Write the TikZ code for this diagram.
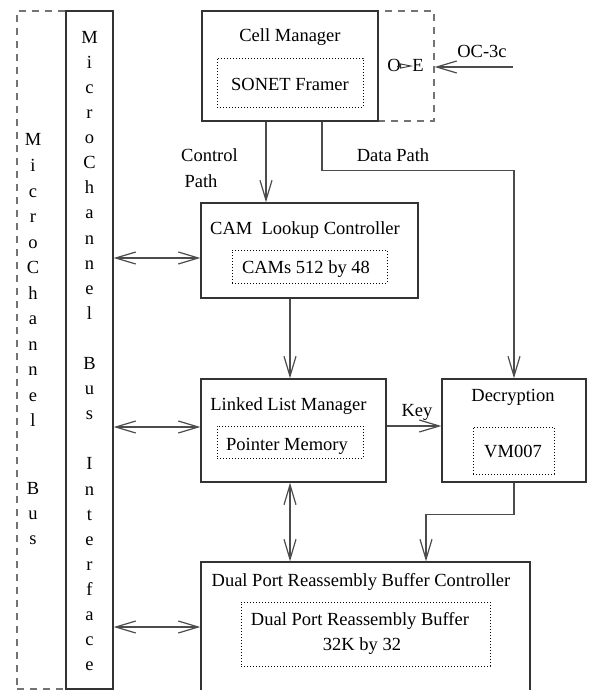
\documentclass[tikz,border=0pt]{standalone}
\usepackage{fontspec}
\setmainfont{Liberation Serif}
\usetikzlibrary{arrows.meta,calc}
\tikzset{
  box/.style={draw=black!80, line width=1.3pt, rectangle, inner sep=0pt},
  dotbox/.style={draw=black, line width=0.8pt, dash pattern=on 0.9pt off 2.1pt, rectangle, inner sep=0pt},
  dashbox/.style={draw=black!55, line width=1.3pt, dash pattern=on 7pt off 6pt, rectangle, inner sep=0pt},
  lbl/.style={inner sep=0pt, anchor=base, font=\fontsize{18.5}{22}\selectfont},
  conn/.style={draw=black!70, line width=1.3pt},
  barb/.tip={Straight Barb[length=20pt,width=12pt,line width=1.2pt]},
  arr/.style={conn, -barb},
  dbl/.style={conn, barb-barb},
}
\begin{document}
\begin{tikzpicture}[x=1pt,y=-1pt]
\useasboundingbox (0,0) rectangle (592,690);
\clip (0,0) rectangle (592,690);
% bus boxes
\node[dashbox, minimum width=49pt, minimum height=678pt] (mcb) at (41.5,350) {};
\node[box, fill=white, minimum width=47pt, minimum height=678pt] (bi) at (89.5,350) {};
% cell manager
\node[dashbox, minimum width=56pt, minimum height=110pt] (oe) at (406,66) {};
\node[box, fill=white, minimum width=176pt, minimum height=110pt] (cm) at (290,66) {};
\node[dotbox, minimum width=146pt, minimum height=49pt] (sonet) at (290,82.5) {};
% CAM
\node[box, minimum width=217pt, minimum height=95pt] (cam) at (309.5,250.5) {};
\node[dotbox, minimum width=155pt, minimum height=33pt] (cams) at (309.5,266.5) {};
% linked list manager
\node[box, minimum width=185pt, minimum height=103pt] (llm) at (293.5,430.5) {};
\node[dotbox, minimum width=146pt, minimum height=32pt] (pm) at (290,442) {};
% decryption
\node[box, minimum width=144pt, minimum height=103pt] (dec) at (514,430.5) {};
\node[dotbox, minimum width=81pt, minimum height=47pt] (vm) at (513.5,450.5) {};
% dual port
\node[box, minimum width=329pt, minimum height=130pt] (dprb) at (365.5,627) {};
\node[dotbox, minimum width=249pt, minimum height=64pt] (buf) at (365.5,634) {};

% labels
\node[lbl] (tcm) at (290,42) {Cell Manager};
\node[lbl] (tsonet) at (290,91) {SONET Framer};
\node[lbl] (tO) at (394,72) {O};
\node[lbl] (tE) at (418,72) {E};
\node[lbl] (toc) at (482,57.3) {OC-3c};
\node[lbl] (tctl) at (209.5,161.7) {Control};
\node[lbl] (tpath) at (201,187.3) {Path};
\node[lbl] (tdata) at (393,161.7) {Data Path};
\node[lbl] (tcam) at (305,234.3) {CAM\ \ Lookup Controller};
\node[lbl] (tcams) at (306,273.3) {CAMs 512 by 48};
\node[lbl] (tllm) at (288.5,410) {Linked List Manager};
\node[lbl] (tpm) at (287,450) {Pointer Memory};
\node[lbl] (tkey) at (417,416.7) {Key};
\node[lbl] (tdec) at (513,401.7) {Decryption};
\node[lbl] (tvm) at (513,457.7) {VM007};
\node[lbl] (tdprb) at (361,586) {Dual Port Reassembly Buffer Controller};
\node[lbl] (tbuf1) at (360,625.7) {Dual Port Reassembly Buffer};
\node[lbl] (tbuf2) at (362,650) {32K by 32};

% vertical texts
\foreach \ch/\k in {M/0,i/1,c/2,r/3,o/4,C/5,h/6,a/7,n/8,n/9,e/10,l/11,B/13,u/14,s/15,I/17,n/18,t/19,e/20,r/21,f/22,a/23,c/24,e/25}
  \node[lbl] (bi\k) at (89.5,{43.2+25.1*\k}) {\ch};
\foreach \ch/\yy [count=\k] in {M/146,i/171.5,c/197,r/222.5,o/248,C/273.5,h/299,a/324.5,n/350,n/375.5,e/401,l/426.5,B/494,u/519,s/544}
  \node[lbl] (mc\k) at (33,\yy) {\ch};

% O -> E
\draw[draw=black!80, line width=0.9pt, -{Triangle[open,length=13pt,width=5pt,line width=0.9pt]}] ([xshift=-4pt]tO.east |- 0,66) -- ([xshift=1pt]tE.west |- 0,66);
% OC-3c input
\coordinate (ocin) at (513,67);
\draw[arr] (ocin) -- (oe.east |- ocin);

% control path
\draw[arr] ([xshift=-24pt]cm.south) -- ([xshift=-24pt]cm.south |- cam.north);
% data path
\draw[arr] ([xshift=32pt]cm.south) -- ++(0,49) -| (dec.north);
% CAM -> LLM
\draw[arr] ([xshift=-19.5pt]cam.south) -- ([xshift=-19.5pt]cam.south |- llm.north);
% key
\draw[arr] ([yshift=4.5pt]llm.east) -- ([yshift=4.5pt]llm.east -| dec.west);
% LLM <-> DPRB
\draw[dbl] ([xshift=-3.5pt]llm.south) -- ([xshift=-3.5pt]llm.south |- dprb.north);
% decryption -> DPRB
\draw[arr] (dec.south) -- ++(0,32) -| ([xshift=60.5pt]dprb.north);

% bus interface arrows
\coordinate (camin) at ([yshift=-7.5pt]cam.west);
\draw[dbl] (bi.east |- camin) -- (camin);
\coordinate (llmin) at ([yshift=3.5pt]llm.west);
\draw[dbl] (bi.east |- llmin) -- (llmin);
\draw[dbl] (bi.east |- dprb.west) -- (dprb.west);
\end{tikzpicture}
\end{document}
